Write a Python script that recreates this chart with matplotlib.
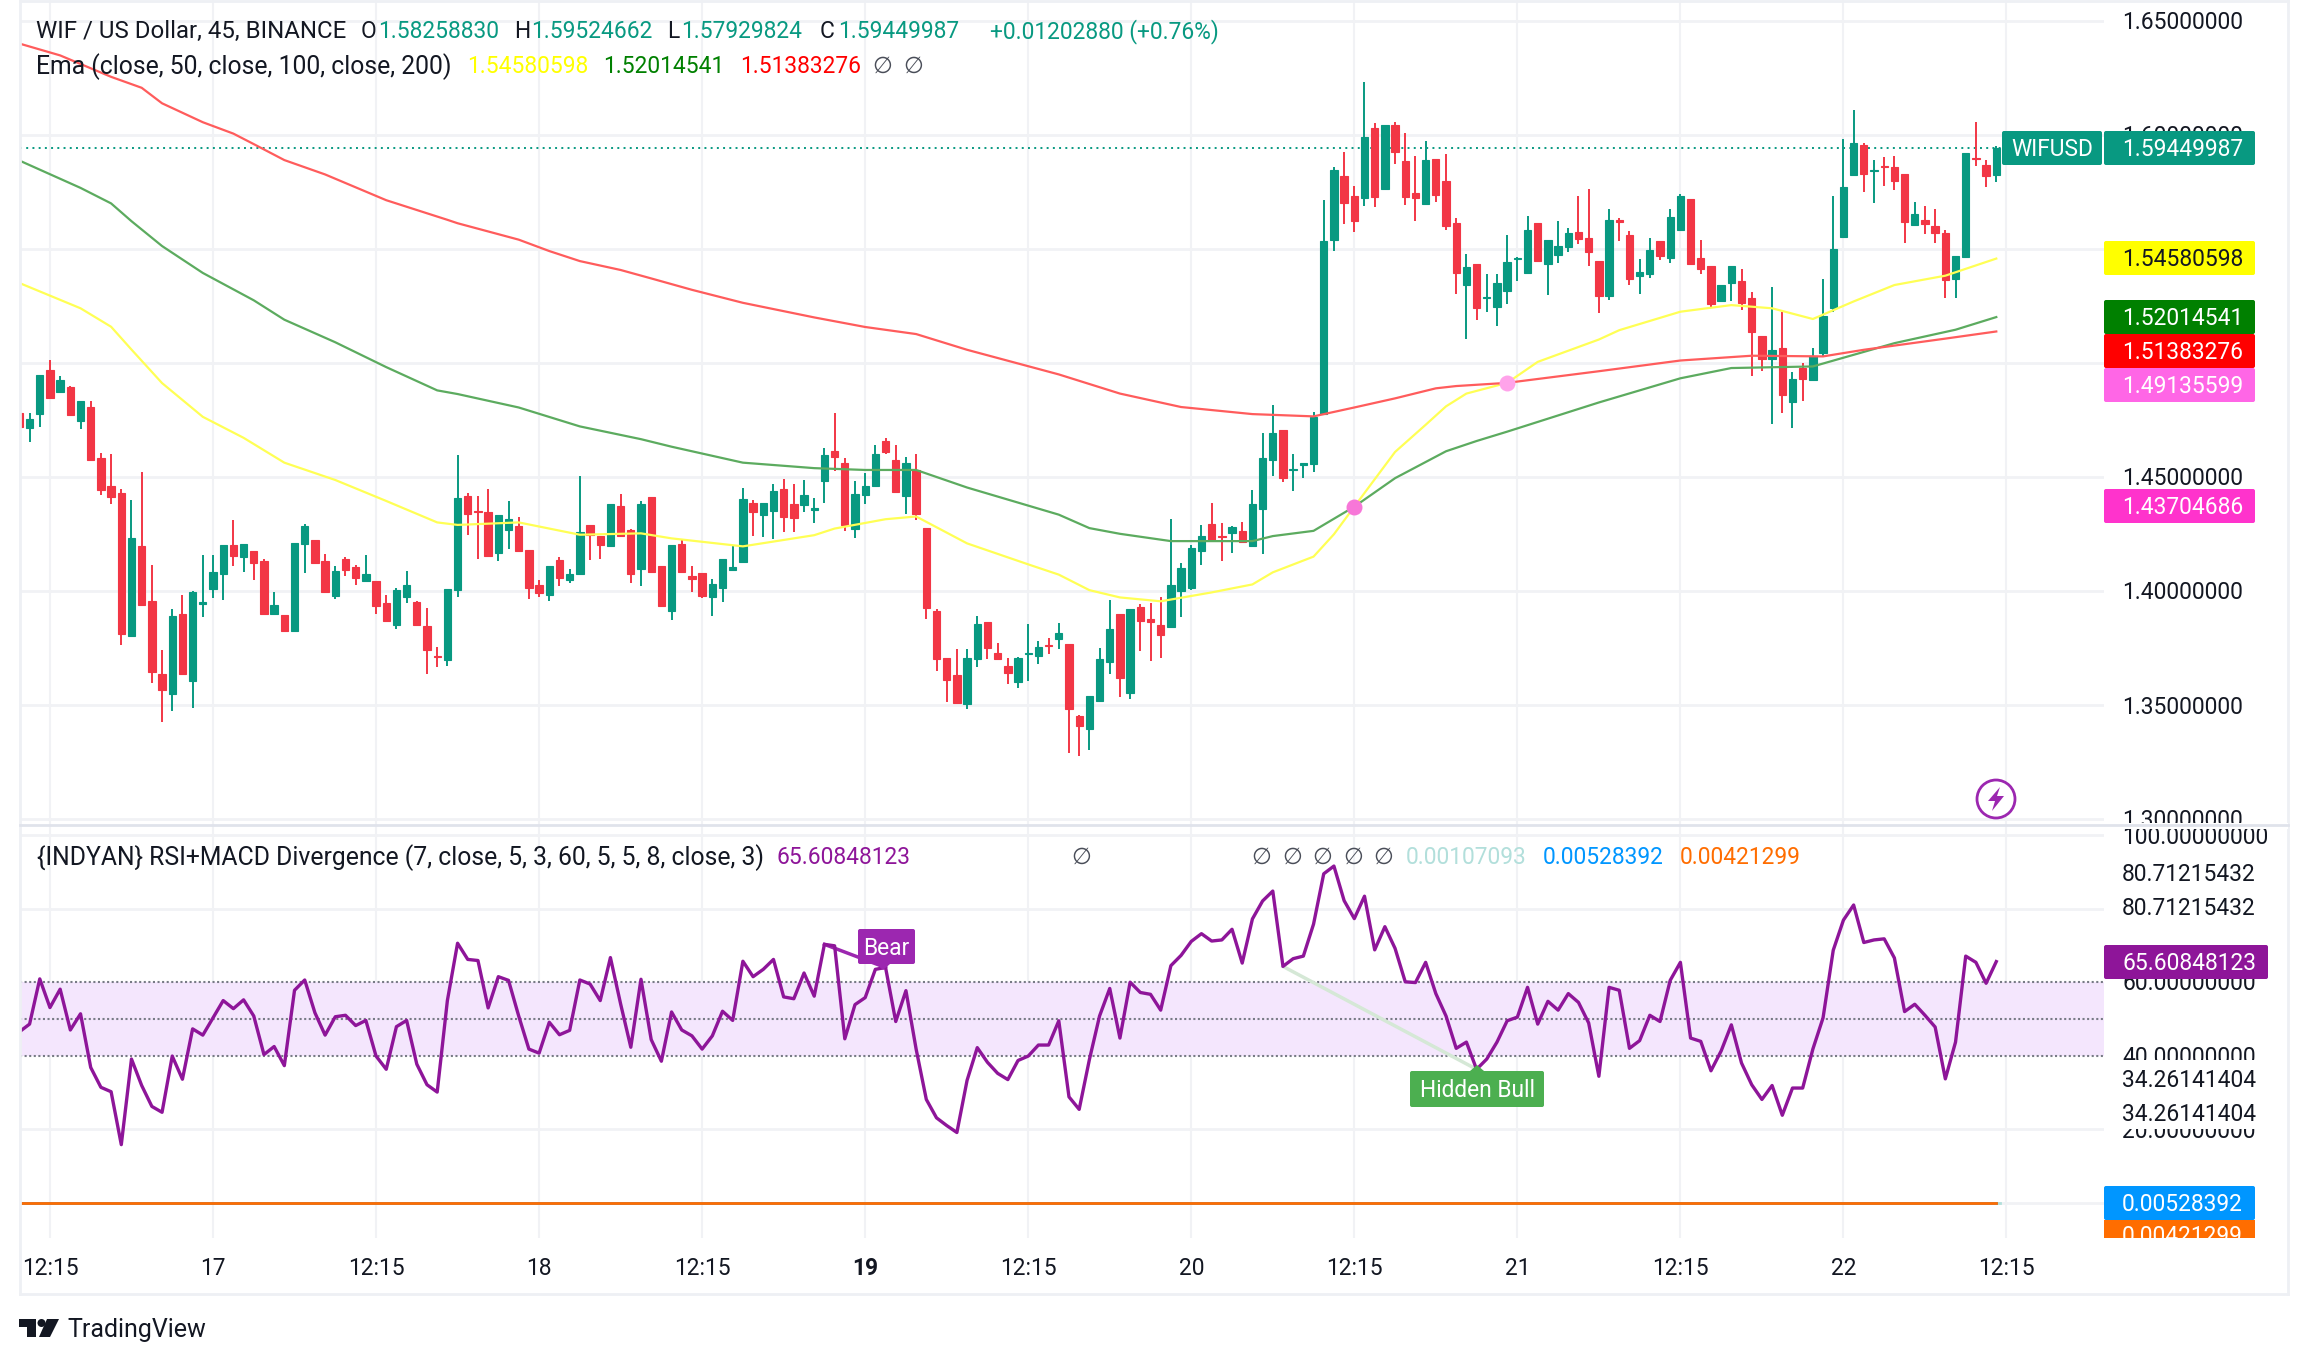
#!/usr/bin/env python3
"""
WIF / US Dollar 45 分钟 K 线图重绘
上：K 线 + 三条 EMA
下：RSI + MACD 背离指标
"""
import matplotlib.pyplot as plt
from matplotlib.patches import FancyBboxPatch, Rectangle, Polygon, Circle
import matplotlib

matplotlib.rcParams['font.family'] = ['Roboto', 'DejaVu Sans']

UP = '#089981'
DOWN = '#F23645'
GRID = '#F1F2F5'
INK = '#131722'

# open, high, low, close
bars = [
    (1.4782, 1.4782, 1.4720, 1.4720), (1.4716, 1.4782, 1.4653, 1.4756), (1.4777, 1.4947, 1.4720, 1.4947),
    (1.4969, 1.5013, 1.4847, 1.4847), (1.4873, 1.4943, 1.4873, 1.4925), (1.4895, 1.4899, 1.4769, 1.4773),
    (1.4747, 1.4834, 1.4712, 1.4834), (1.4808, 1.4834, 1.4574, 1.4574), (1.4582, 1.4604, 1.4421, 1.4443),
    (1.4460, 1.4600, 1.4382, 1.4412), (1.4430, 1.4447, 1.3762, 1.3812), (1.3801, 1.4399, 1.3801, 1.4231),
    (1.4196, 1.4521, 1.3939, 1.3939), (1.3956, 1.4113, 1.3596, 1.3644), (1.3635, 1.3742, 1.3424, 1.3565),
    (1.3548, 1.3921, 1.3474, 1.3891), (1.3900, 1.3983, 1.3635, 1.3635), (1.3605, 1.4000, 1.3487, 1.3995),
    (1.3945, 1.4157, 1.3887, 1.3950), (1.4008, 1.4157, 1.3970, 1.4083), (1.4074, 1.4201, 1.3960, 1.4201),
    (1.4201, 1.4312, 1.4109, 1.4152), (1.4148, 1.4205, 1.4083, 1.4205), (1.4174, 1.4174, 1.4048, 1.4122),
    (1.4133, 1.4139, 1.3900, 1.3900), (1.3900, 1.3995, 1.3896, 1.3939), (1.3896, 1.3896, 1.3822, 1.3826),
    (1.3826, 1.4209, 1.3826, 1.4209), (1.4205, 1.4295, 1.4078, 1.4286), (1.4222, 1.4222, 1.4122, 1.4122),
    (1.4131, 1.4161, 1.3995, 1.3995), (1.3978, 1.4109, 1.3965, 1.4087), (1.4139, 1.4148, 1.4065, 1.4091),
    (1.4104, 1.4113, 1.4026, 1.4056), (1.4043, 1.4157, 1.4043, 1.4074), (1.4043, 1.4043, 1.3900, 1.3934),
    (1.3947, 1.3983, 1.3865, 1.3869), (1.3851, 1.4013, 1.3834, 1.4004), (1.3974, 1.4087, 1.3947, 1.4026),
    (1.3952, 1.3956, 1.3851, 1.3851), (1.3847, 1.3926, 1.3635, 1.3740), (1.3716, 1.3755, 1.3668, 1.3712),
    (1.3696, 1.4008, 1.3670, 1.4008), (1.4004, 1.4596, 1.3974, 1.4408), (1.4417, 1.4430, 1.4246, 1.4338),
    (1.4351, 1.4417, 1.4139, 1.4345), (1.4347, 1.4447, 1.4152, 1.4152), (1.4166, 1.4334, 1.4131, 1.4334),
    (1.4268, 1.4395, 1.4183, 1.4316), (1.4286, 1.4325, 1.4170, 1.4174), (1.4179, 1.4179, 1.3965, 1.4013),
    (1.4026, 1.4048, 1.3974, 1.3991), (1.3982, 1.4109, 1.3956, 1.4109), (1.4135, 1.4148, 1.4022, 1.4056),
    (1.4048, 1.4096, 1.4035, 1.4074), (1.4074, 1.4504, 1.4074, 1.4259), (1.4290, 1.4290, 1.4135, 1.4246),
    (1.4242, 1.4242, 1.4139, 1.4201), (1.4196, 1.4382, 1.4196, 1.4382), (1.4373, 1.4425, 1.4242, 1.4242),
    (1.4268, 1.4272, 1.4035, 1.4074), (1.4096, 1.4395, 1.4022, 1.4382), (1.4412, 1.4412, 1.4083, 1.4083),
    (1.4109, 1.4109, 1.3930, 1.3934), (1.3913, 1.4201, 1.3873, 1.4201), (1.4205, 1.4227, 1.4083, 1.4083),
    (1.4068, 1.4109, 1.3995, 1.4055), (1.4078, 1.4078, 1.3970, 1.3978), (1.3974, 1.4052, 1.3891, 1.4030),
    (1.4013, 1.4139, 1.3952, 1.4139), (1.4091, 1.4196, 1.4087, 1.4104), (1.4126, 1.4451, 1.4126, 1.4403),
    (1.4386, 1.4399, 1.4242, 1.4347), (1.4334, 1.4386, 1.4235, 1.4386), (1.4351, 1.4469, 1.4227, 1.4438),
    (1.4447, 1.4491, 1.4259, 1.4325), (1.4382, 1.4469, 1.4259, 1.4320), (1.4378, 1.4486, 1.4347, 1.4423),
    (1.4354, 1.4409, 1.4298, 1.4362), (1.4482, 1.4627, 1.4386, 1.4597), (1.4615, 1.4780, 1.4525, 1.4588),
    (1.4562, 1.4582, 1.4262, 1.4288), (1.4272, 1.4482, 1.4233, 1.4425), (1.4421, 1.4517, 1.4382, 1.4460),
    (1.4460, 1.4639, 1.4460, 1.4601), (1.4658, 1.4670, 1.4603, 1.4611), (1.4574, 1.4639, 1.4435, 1.4435),
    (1.4417, 1.4586, 1.4337, 1.4562), (1.4531, 1.4601, 1.4313, 1.4337), (1.4276, 1.4276, 1.3878, 1.3927),
    (1.3912, 1.3921, 1.3649, 1.3704), (1.3706, 1.3706, 1.3514, 1.3610), (1.3633, 1.3745, 1.3508, 1.3508),
    (1.3504, 1.3745, 1.3484, 1.3706), (1.3702, 1.3890, 1.3667, 1.3855), (1.3863, 1.3863, 1.3702, 1.3751),
    (1.3729, 1.3772, 1.3698, 1.3700), (1.3672, 1.3706, 1.3592, 1.3641), (1.3600, 1.3712, 1.3576, 1.3706),
    (1.3723, 1.3855, 1.3606, 1.3729), (1.3714, 1.3782, 1.3680, 1.3755), (1.3765, 1.3792, 1.3725, 1.3759),
    (1.3790, 1.3861, 1.3745, 1.3817), (1.3767, 1.3767, 1.3290, 1.3484), (1.3451, 1.3457, 1.3277, 1.3406),
    (1.3396, 1.3539, 1.3302, 1.3539), (1.3518, 1.3749, 1.3518, 1.3702), (1.3688, 1.3961, 1.3637, 1.3833),
    (1.3900, 1.3900, 1.3535, 1.3618), (1.3553, 1.3921, 1.3527, 1.3921), (1.3931, 1.3941, 1.3737, 1.3870),
    (1.3876, 1.3947, 1.3694, 1.3866), (1.3851, 1.3974, 1.3706, 1.3806), (1.3843, 1.4317, 1.3843, 1.4027),
    (1.4000, 1.4123, 1.3886, 1.4102), (1.4015, 1.4200, 1.4004, 1.4188), (1.4176, 1.4290, 1.4115, 1.4241),
    (1.4294, 1.4386, 1.4213, 1.4225), (1.4241, 1.4298, 1.4131, 1.4235), (1.4256, 1.4286, 1.4168, 1.4280),
    (1.4264, 1.4302, 1.4215, 1.4215), (1.4198, 1.4443, 1.4198, 1.4382), (1.4360, 1.4695, 1.4162, 1.4584),
    (1.4574, 1.4815, 1.4505, 1.4693), (1.4707, 1.4707, 1.4478, 1.4496), (1.4529, 1.4601, 1.4439, 1.4537),
    (1.4552, 1.4560, 1.4496, 1.4560), (1.4558, 1.4784, 1.4523, 1.4764), (1.4776, 1.5716, 1.4776, 1.5536),
    (1.5540, 1.5861, 1.5491, 1.5846), (1.5820, 1.5926, 1.5609, 1.5701), (1.5732, 1.5777, 1.5575, 1.5624),
    (1.5722, 1.6232, 1.5689, 1.5991), (1.6030, 1.6053, 1.5685, 1.5728), (1.5763, 1.6044, 1.5763, 1.6044),
    (1.6046, 1.6057, 1.5873, 1.5924), (1.5887, 1.6010, 1.5693, 1.5728), (1.5746, 1.5908, 1.5624, 1.5724),
    (1.5697, 1.5973, 1.5697, 1.5891), (1.5895, 1.5895, 1.5707, 1.5738), (1.5799, 1.5918, 1.5583, 1.5601),
    (1.5613, 1.5636, 1.5303, 1.5395), (1.5342, 1.5479, 1.5105, 1.5422), (1.5434, 1.5434, 1.5189, 1.5240),
    (1.5283, 1.5391, 1.5223, 1.5289), (1.5246, 1.5391, 1.5162, 1.5352), (1.5315, 1.5562, 1.5260, 1.5444),
    (1.5454, 1.5464, 1.5358, 1.5460), (1.5395, 1.5644, 1.5395, 1.5583), (1.5613, 1.5613, 1.5448, 1.5448),
    (1.5434, 1.5540, 1.5299, 1.5540), (1.5475, 1.5624, 1.5438, 1.5513), (1.5509, 1.5593, 1.5487, 1.5571),
    (1.5575, 1.5732, 1.5522, 1.5546), (1.5548, 1.5763, 1.5426, 1.5487), (1.5448, 1.5448, 1.5219, 1.5295),
    (1.5295, 1.5675, 1.5277, 1.5628), (1.5626, 1.5634, 1.5536, 1.5620), (1.5562, 1.5577, 1.5342, 1.5370),
    (1.5383, 1.5458, 1.5303, 1.5399), (1.5391, 1.5550, 1.5373, 1.5495), (1.5536, 1.5536, 1.5452, 1.5468),
    (1.5462, 1.5675, 1.5438, 1.5640), (1.5583, 1.5740, 1.5583, 1.5732), (1.5720, 1.5720, 1.5434, 1.5434),
    (1.5460, 1.5540, 1.5391, 1.5413), (1.5426, 1.5426, 1.5242, 1.5260), (1.5270, 1.5342, 1.5268, 1.5342),
    (1.5352, 1.5426, 1.5270, 1.5426), (1.5360, 1.5413, 1.5234, 1.5264), (1.5285, 1.5313, 1.4942, 1.5134),
    (1.5119, 1.5119, 1.4964, 1.5017), (1.5017, 1.5334, 1.4731, 1.5058), (1.5066, 1.5223, 1.4780, 1.4858),
    (1.4829, 1.4960, 1.4717, 1.4931), (1.4978, 1.4999, 1.4835, 1.4929), (1.4927, 1.5066, 1.4927, 1.5032),
    (1.5046, 1.5368, 1.5029, 1.5207), (1.5240, 1.5732, 1.5223, 1.5501), (1.5552, 1.5983, 1.5550, 1.5773),
    (1.5826, 1.6110, 1.5822, 1.5965), (1.5957, 1.5965, 1.5750, 1.5828), (1.5842, 1.5889, 1.5701, 1.5848),
    (1.5865, 1.5903, 1.5777, 1.5858), (1.5861, 1.5908, 1.5758, 1.5799), (1.5830, 1.5830, 1.5528, 1.5620),
    (1.5607, 1.5707, 1.5605, 1.5652), (1.5626, 1.5689, 1.5567, 1.5609), (1.5601, 1.5675, 1.5528, 1.5571),
    (1.5571, 1.5583, 1.5283, 1.5364), (1.5368, 1.5471, 1.5283, 1.5471), (1.5464, 1.5922, 1.5464, 1.5922),
    (1.5901, 1.6059, 1.5863, 1.5895), (1.5869, 1.5889, 1.5773, 1.5820),
    (1.58258830, 1.59524662, 1.57929824, 1.59449987),
]

# (K 线序号, 数值)
ema50 = [(0, 1.5351), (6, 1.5240), (9, 1.5159), (11, 1.5059), (14, 1.4912), (18, 1.4764), (22, 1.4672),
         (26, 1.4563), (31, 1.4487), (36, 1.4395), (41, 1.4301), (43, 1.4290), (49, 1.4301), (55, 1.4247),
         (61, 1.4253), (64, 1.4231), (71, 1.4196), (78, 1.4245), (80, 1.4274), (85, 1.4315), (88, 1.4327),
         (93, 1.4209), (99, 1.4117), (102, 1.4072), (105, 1.4004), (108, 1.3972), (112, 1.3955), (117, 1.3994),
         (121, 1.4029), (123, 1.4082), (127, 1.4151), (129, 1.4249), (131, 1.4370), (135, 1.4610), (138, 1.4729),
         (140, 1.4810), (142, 1.4866), (146, 1.4913), (149, 1.5005), (155, 1.5103), (157, 1.5144), (163, 1.5225),
         (168, 1.5254), (172, 1.5240), (176, 1.5193), (180, 1.5270), (184, 1.5342), (189, 1.5383), (194, 1.54580598)]
ema100 = [(0, 1.5888), (6, 1.5768), (9, 1.5700), (11, 1.5622), (14, 1.5513), (18, 1.5395), (23, 1.5275),
          (26, 1.5190), (31, 1.5091), (36, 1.4982), (41, 1.4880), (43, 1.4864), (49, 1.4805), (55, 1.4722),
          (61, 1.4666), (64, 1.4633), (71, 1.4563), (78, 1.4539), (83, 1.4531), (88, 1.4531), (93, 1.4454),
          (102, 1.4335), (105, 1.4276), (108, 1.4251), (113, 1.4219), (121, 1.4219), (123, 1.4241), (127, 1.4264),
          (131, 1.4370), (135, 1.4495), (140, 1.4613), (143, 1.4658), (146, 1.4699), (155, 1.4827), (163, 1.4933),
          (168, 1.4978), (176, 1.4985), (184, 1.5087), (190, 1.5146), (194, 1.52014541)]
ema200 = [(0, 1.6401), (4, 1.6349), (9, 1.6255), (12, 1.6207), (14, 1.6139), (18, 1.6056), (21, 1.6006),
          (23, 1.5960), (26, 1.5890), (30, 1.5827), (36, 1.5714), (42, 1.5628), (43, 1.5613), (49, 1.5541),
          (52, 1.5491), (55, 1.5447), (59, 1.5408), (62, 1.5371), (66, 1.5321), (71, 1.5264), (78, 1.5200),
          (83, 1.5158), (88, 1.5127), (93, 1.5058), (102, 1.4950), (108, 1.4866), (114, 1.4807), (121, 1.4776),
          (127, 1.4766), (131, 1.4805), (135, 1.4845), (139, 1.4889), (141, 1.4899), (146, 1.4913), (155, 1.4964),
          (163, 1.5011), (170, 1.5032), (177, 1.5029), (181, 1.5058), (189, 1.5107), (194, 1.51383276)]

rsi = [46.5, 48.6, 60.9, 53.1, 58.1, 47.0, 51.4, 36.8, 31.4, 30.2, 15.8, 39.1, 31.9, 26.2, 24.6, 39.9, 33.6,
       47.3, 45.6, 50.3, 55.0, 52.8, 55.2, 50.8, 40.3, 42.5, 37.3, 57.8, 60.6, 51.7, 45.6, 50.6, 51.0, 48.2,
       49.6, 39.9, 36.3, 47.9, 49.6, 37.7, 32.1, 30.1, 55.0, 70.6, 66.2, 65.9, 53.0, 61.5, 60.5, 50.8, 41.8,
       40.7, 49.1, 45.7, 46.9, 60.6, 59.5, 55.0, 66.7, 54.1, 42.3, 60.8, 44.4, 38.5, 51.9, 47.0, 45.4, 41.8,
       45.4, 52.1, 49.6, 65.7, 61.5, 63.5, 66.2, 56.0, 55.5, 62.5, 56.2, 70.3, 69.9, 44.6, 53.9, 55.8, 63.5,
       64.0, 49.3, 57.7, 41.8, 28.1, 23.1, 21.0, 19.1, 33.3, 42.2, 38.2, 35.2, 33.5, 38.7, 39.9, 42.9, 42.9,
       49.5, 28.8, 25.4, 38.9, 50.8, 58.3, 44.8, 60.0, 57.2, 56.7, 52.4, 64.5, 67.3, 71.1, 73.2, 71.2, 71.5,
       74.4, 65.2, 77.2, 82.1, 84.8, 64.3, 66.4, 67.1, 75.8, 89.5, 91.6, 82.2, 77.3, 83.4, 68.8, 75.1, 69.2,
       60.1, 59.9, 65.4, 56.9, 50.8, 42.0, 43.7, 36.3, 39.1, 43.7, 49.5, 50.5, 58.6, 48.6, 54.8, 52.4, 56.9,
       54.5, 48.9, 34.4, 58.6, 57.8, 42.0, 44.1, 51.0, 49.3, 60.5, 65.4, 44.8, 43.9, 35.9, 41.3, 48.4, 38.0,
       32.1, 28.1, 31.9, 23.8, 31.2, 31.2, 41.8, 50.3, 68.7, 76.9, 81.0, 70.8, 71.5, 71.8, 66.6, 52.0, 54.0,
       51.0, 47.8, 33.7, 43.7, 67.1, 65.4, 59.7, 65.60848123]

fig = plt.figure(figsize=(23.08, 13.64), dpi=100)
W, H = 2308.0, 1364.0

# =============================================================
# 主图：K 线 + EMA
# =============================================================
ax = fig.add_axes([20 / W, 1 - 825 / H, 2084 / W, 825 / H])
ax.set_xlim(0.06, 204.57)
ax.set_ylim(1.2974, 1.6592)
ax.axis('off')

for p in [1.30, 1.35, 1.40, 1.45, 1.50, 1.55, 1.60, 1.65]:
    ax.axhline(p, color=GRID, lw=2, zorder=0)
for i in range(3, 196, 16):
    ax.axvline(i, color=GRID, lw=1.5, zorder=0)

for i, (o, h, l, c) in enumerate(bars):
    color = UP if c >= o else DOWN
    ax.plot([i, i], [l, h], color=color, lw=1.4, solid_capstyle='butt', zorder=2)
    ax.bar(i, abs(c - o), bottom=min(o, c), width=0.72, color=color, edgecolor=color, lw=0.8, zorder=2)

ax.plot([a for a, b in ema50], [b for a, b in ema50], color='#FFFF55', lw=1.6, zorder=3)
ax.plot([a for a, b in ema100], [b for a, b in ema100], color='#5CAB5F', lw=1.6, zorder=3)
ax.plot([a for a, b in ema200], [b for a, b in ema200], color='#FF5C5C', lw=1.6, zorder=3)

ax.plot([131], [1.43704686], 'o', ms=11.5, color='#F777D8', mew=0, zorder=4)
ax.plot([146], [1.49135599], 'o', ms=11.5, color='#FFA3EA', mew=0, zorder=4)
ax.axhline(1.59449987, color=UP, lw=1.4, ls=(0, (1, 2.2)), zorder=1)

# =============================================================
# 副图：RSI + MACD 背离
# =============================================================
ax2 = fig.add_axes([20 / W, 1 - 1238 / H, 2084 / W, 412 / H])
ax2.set_xlim(0.06, 204.57)
ax2.set_ylim(-9.6, 102.5)
ax2.axis('off')

for v in [0, 20, 80, 100]:
    ax2.axhline(v, color=GRID, lw=2, zorder=0)
for i in range(3, 196, 16):
    ax2.axvline(i, color=GRID, lw=1.5, zorder=0)

ax2.axhspan(40, 60, color='#F4E6FD', lw=0, zorder=1)
for v in [40, 50, 60]:
    ax2.axhline(v, color='#787B86', lw=1.5, ls=(0, (1, 1.2)), zorder=2)

# 背离连线
ax2.plot([124, 143], [64.3, 36.3], color='#D5E8D6', lw=2.5, zorder=3)
ax2.plot([79, 85], [70.3, 64.0], color='#9C27B0', lw=2.5, zorder=3)

ax2.plot(range(len(rsi)), rsi, color='#8E1599', lw=2.4, zorder=4)

ax2.plot([0, 194.4], [0.00107093, 0.00107093], color='#B2DFDB', lw=2, zorder=3)
ax2.plot([0, 194], [0.00528392, 0.00528392], color='#2196F3', lw=2, zorder=3)
ax2.plot([0, 194], [0.00421299, 0.00421299], color='#FF6D00', lw=2, zorder=3)

# =============================================================
# 叠加层：文字、价格标签、边框（像素坐标）
# =============================================================
top = fig.add_axes([0, 0, 1, 1])
top.set_xlim(0, W)
top.set_ylim(H, 0)
top.axis('off')
top.patch.set_alpha(0)

FS = 16.4
FS_LONG = 17.8  # 图例长文字字母更宽


def txt(x, y, s, color=INK, ha='left', z=6, fs=FS, **kw):
    top.text(x, y + 1.5, s, color=color, ha=ha, va='center', fontsize=fs, zorder=z, **kw)


def label(y0, y1, s, fc, tc='white', x0=2104, x1=2255):
    box = FancyBboxPatch((x0 + 2, y0 + 2), x1 - x0 - 4, y1 - y0 - 4,
                         boxstyle="round,pad=2", linewidth=0, facecolor=fc, zorder=5)
    top.add_patch(box)
    txt(2122, (y0 + y1) / 2, s, color=tc, z=7)


# 边框
top.plot([20, 20], [0, 1294], color='#EEF0F4', lw=2, zorder=1)
top.plot([20, 2288], [1294, 1294], color='#EEF0F4', lw=2, zorder=1)
top.plot([2288, 2288], [0, 1294], color='#EEF0F4', lw=2, zorder=1)
top.plot([20, 2288], [1, 1], color='#EEF0F4', lw=2, zorder=1)

# 价格轴
for y, s in [(21, '1.65000000'), (135, '1.60000000'), (477, '1.45000000'), (591, '1.40000000'),
             (705.5, '1.35000000'), (819, '1.30000000')]:
    txt(2122, y, s, z=3)
top.add_patch(Rectangle((2104, 823), 184, 6, facecolor='white', lw=0, zorder=4))
top.plot([20, 2288], [825, 825], color='#E0E3EB', lw=2, zorder=4)

top.add_patch(FancyBboxPatch((2004, 133), 96, 30, boxstyle="round,pad=2", lw=0, facecolor=UP, zorder=5))
txt(2052, 148, 'WIFUSD', color='white', ha='center', z=7)
label(131, 165, '1.59449987', UP)
label(241, 275, '1.54580598', '#FFFF00', tc=INK)
label(300, 334, '1.52014541', '#008000')
label(334, 368, '1.51383276', '#FF0000')
label(368, 402, '1.49135599', '#FF66E6')
label(489, 523, '1.43704686', '#FF33CC')

# RSI 轴
for y, s in [(835.6, '100.00000000'), (873, '80.71215432'), (907, '80.71215432'), (982.5, '60.00000000'),
             (1056, '40.00000000'), (1130, '20.00000000')]:
    txt(2122, y, s, z=3)
top.add_patch(Rectangle((2104, 1060), 170, 68.5, facecolor='white', lw=0, zorder=4))
txt(2122, 1079, '34.26141404', z=6)
txt(2122, 1113, '34.26141404', z=6)
label(945, 979, '65.60848123', '#8E1599', x1=2268)
label(1186, 1220, '0.00528392', '#0096FF')
top.add_patch(Rectangle((2104, 1220), 151, 18, facecolor='#FF6D00', lw=0, zorder=5))
txt(2122, 1235, '0.00421299', color='white', z=7)
top.add_patch(Rectangle((2104, 1238), 180, 14, facecolor='white', lw=0, zorder=8))

# 图例第一行
txt(36, 30, 'WIF / US Dollar, 45, BINANCE', fs=17.3)
for x, s in [(361, 'O'), (514, 'H'), (667, 'L'), (820, 'C')]:
    txt(x, 30, s)
for x, s in [(378, '1.58258830'), (531, '1.59524662'), (681, '1.57929824'), (838, '1.59449987'),
             (990, '+0.01202880 (+0.76%)')]:
    txt(x, 30, s, color=UP)

# 图例第二行
txt(36, 65, 'Ema (close, 50, close, 100, close, 200)', fs=FS_LONG)
txt(467, 65, '1.54580598', color='#FFFF00')
txt(603, 65, '1.52014541', color='#008000')
txt(740, 65, '1.51383276', color='#FF0000')
txt(872, 65, '∅', color='#4A4E59')
txt(903, 65, '∅', color='#4A4E59')

# 副图图例
txt(37, 856, '{INDYAN} RSI+MACD Divergence (7, close, 5, 3, 60, 5, 5, 8, close, 3)', fs=FS_LONG)
txt(776, 856, '65.60848123', color='#8E1599')
for x in [1071, 1251, 1282, 1312, 1343, 1373]:
    txt(x, 856, '∅', color='#4A4E59')
txt(1406, 856, '0.00107093', color='#B2DFDB')
txt(1543, 856, '0.00528392', color='#0096FF')
txt(1680, 856, '0.00421299', color='#FF6D00')

# 背离标记
top.add_patch(FancyBboxPatch((860, 931), 53, 31, boxstyle="round,pad=2", lw=0, facecolor='#9C27B0', zorder=5))
top.add_patch(Polygon([(876, 964), (890, 964), (883, 970)], facecolor='#9C27B0', lw=0, zorder=5))
txt(886.5, 947, 'Bear', color='white', ha='center', z=7)
top.add_patch(FancyBboxPatch((1412, 1073), 130, 32, boxstyle="round,pad=2", lw=0, facecolor='#4CAF50', zorder=5))
top.add_patch(Polygon([(1470, 1071), (1484, 1071), (1477, 1065)], facecolor='#4CAF50', lw=0, zorder=5))
txt(1477, 1089, 'Hidden Bull', color='white', ha='center', z=7)

# 闪电图标
top.add_patch(Circle((1996, 799), 19, facecolor='white', edgecolor='#9C27B0', lw=2, zorder=5))
top.add_patch(Polygon([(2000, 787), (1988, 801), (1995, 801), (1992, 811), (2004, 796), (1997, 796)],
                      facecolor='#9C27B0', lw=0, zorder=6))

# 时间轴
ticks = ['12:15', '17', '12:15', '18', '12:15', '19', '12:15', '20', '12:15', '21', '12:15', '22', '12:15']
for k, s in enumerate(ticks):
    x = 19.4 + 10.19 * (3 + 16 * k)
    if s == '19':
        txt(x, 1267, s, ha='center', fontweight='bold')
    else:
        txt(x, 1267, s, ha='center')

# TradingView 标志
top.add_patch(Polygon([(19, 1319), (36, 1319), (36, 1337), (27, 1337), (27, 1327), (19, 1327)],
                      facecolor=INK, lw=0, zorder=6))
top.add_patch(Circle((41.5, 1323), 4, facecolor=INK, lw=0, zorder=6))
top.add_patch(Polygon([(47, 1319), (59, 1319), (50, 1337), (39, 1337)], facecolor=INK, lw=0, zorder=6))
txt(67, 1328.5, 'TradingView', fs=18)

fig.savefig('out.png', dpi=100)
plt.close(fig)
print('[OK] fig ->', 'out.png')
